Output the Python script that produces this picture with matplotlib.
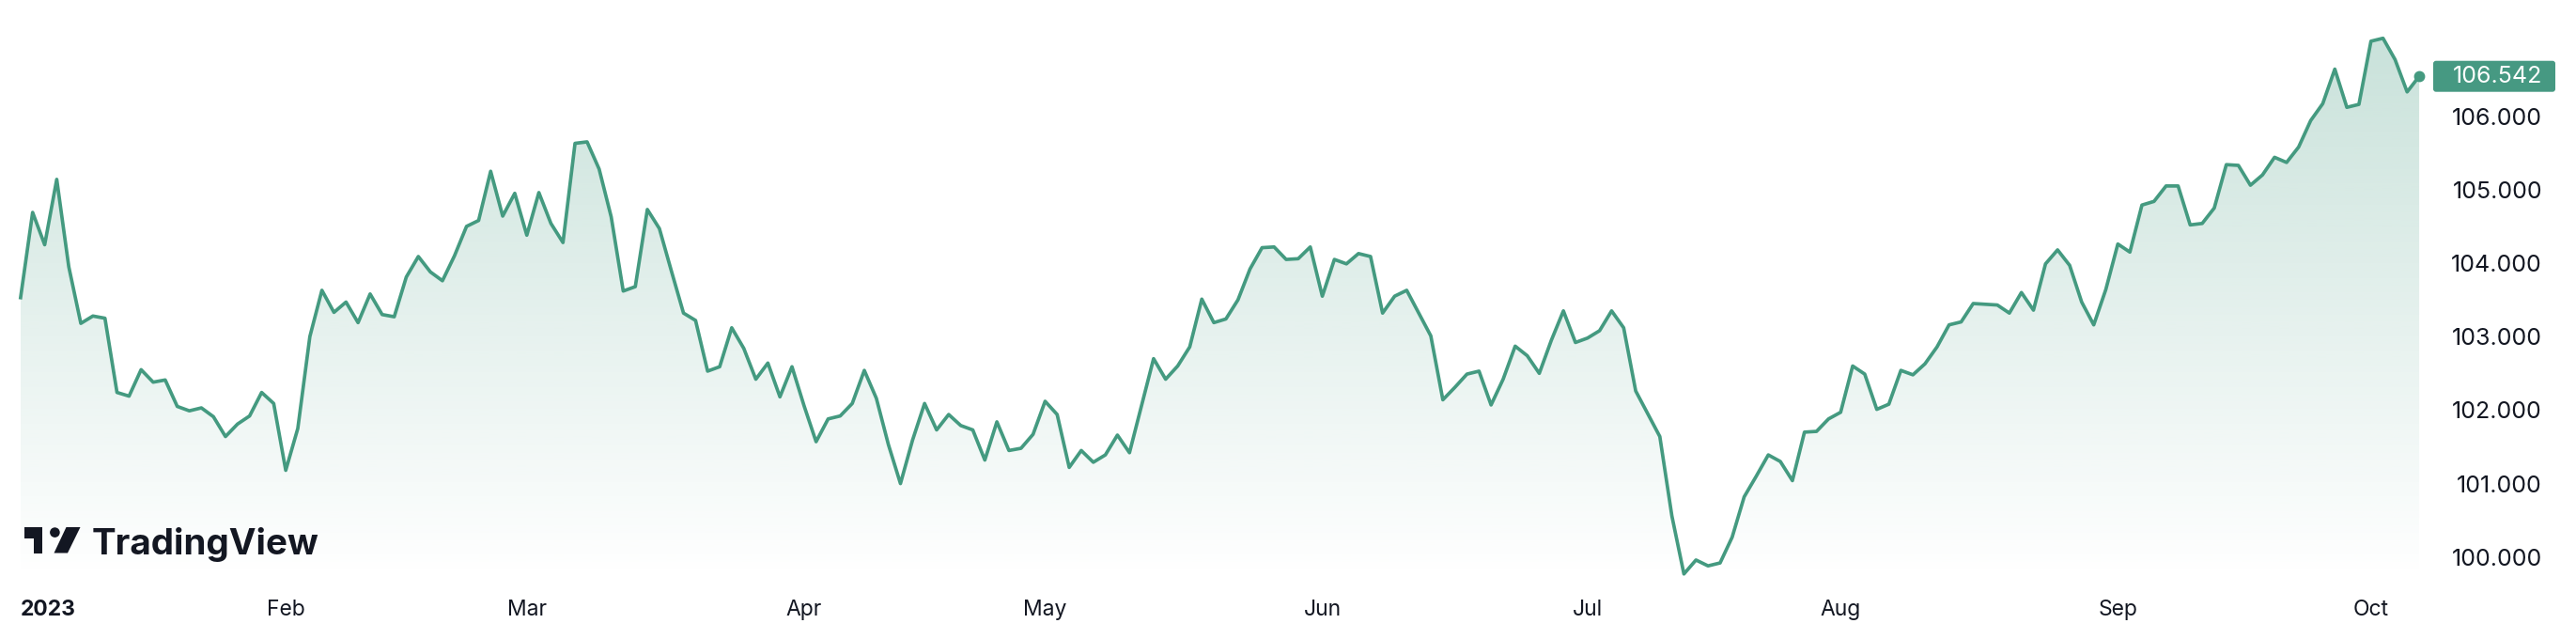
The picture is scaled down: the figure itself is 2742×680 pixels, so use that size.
import numpy as np
import pandas as pd
import matplotlib
matplotlib.use("Agg")
import matplotlib.pyplot as plt
from matplotlib.patches import Polygon, Rectangle, Circle, FancyBboxPatch
from matplotlib.colors import to_rgb

plt.rcParams['font.family'] = ['Inter', 'DejaVu Sans']

# ---------------- data (daily closes, business days) ----------------
jan = [103.53, 104.69, 104.25, 105.14, 103.95, 103.18, 103.28, 103.25, 102.24, 102.19,
       102.55, 102.38, 102.41, 102.05, 101.99, 102.03, 101.91, 101.64, 101.81, 101.92,
       102.24, 102.09]
feb = [101.18, 101.75, 103.00, 103.63, 103.33, 103.47, 103.19, 103.58, 103.30, 103.27,
       103.81, 104.09, 103.88, 103.76, 104.10, 104.50, 104.58, 105.25, 104.64, 104.95]
mar = [104.38, 104.96, 104.54, 104.28, 105.63, 105.65, 105.28, 104.63, 103.62, 103.68,
       104.73, 104.47, 103.89, 103.32, 103.22, 102.53, 102.59, 103.12, 102.84, 102.42,
       102.64, 102.18, 102.59]
apr = [102.06, 101.57, 101.88, 101.92, 102.09, 102.54, 102.16, 101.53, 101.00, 101.59,
       102.09, 101.73, 101.94, 101.79, 101.73, 101.32, 101.84, 101.45, 101.48, 101.67]
may = [102.12, 101.94, 101.22, 101.45, 101.29, 101.39, 101.66, 101.42, 102.06, 102.70,
       102.42, 102.60, 102.86, 103.51, 103.19, 103.24, 103.50, 103.92, 104.21, 104.22,
       104.05, 104.06, 104.22]
jun = [103.55, 104.05, 103.99, 104.13, 104.09, 103.32, 103.55, 103.63, 103.32, 103.01,
       102.14, 102.31, 102.49, 102.53, 102.07, 102.42, 102.87, 102.74, 102.50, 102.95,
       103.35, 102.92]
jul = [102.98, 103.08, 103.35, 103.12, 102.26, 101.95, 101.64, 100.56, 99.77, 99.96,
       99.88, 99.92, 100.27, 100.82, 101.10, 101.39, 101.30, 101.04, 101.70, 101.71,
       101.88]
aug = [101.97, 102.60, 102.49, 102.01, 102.08, 102.54, 102.48, 102.63, 102.86, 103.16,
       103.20, 103.45, 103.44, 103.43, 103.32, 103.60, 103.36, 103.99, 104.18, 103.97,
       103.47, 103.16, 103.64]
sep = [104.26, 104.15, 104.79, 104.84, 105.05, 105.05, 104.52, 104.54, 104.75, 105.34,
       105.33, 105.06, 105.20, 105.44, 105.37, 105.58, 105.94, 106.17, 106.64, 106.12,
       106.16]
octo = [107.02, 107.06, 106.77, 106.33, 106.542]

values = np.array(jan + feb + mar + apr + may + jun + jul + aug + sep + octo)
dates = pd.bdate_range("2023-01-02", periods=len(values))

month_labels = ["2023", "Feb", "Mar", "Apr", "May", "Jun", "Jul", "Aug", "Sep", "Oct"]
month_nums = list(range(1, 11))
y_ticks = [100, 101, 102, 103, 104, 105, 106]
y_labels = [f"{v:.3f}" for v in y_ticks]

# ---------------- style ----------------
LINE = "#449a80"
BOX = "#469982"
TXT = "#131722"
W, H = 2742, 680
DPI = 100

fig = plt.figure(figsize=(W / DPI, H / DPI), dpi=DPI)
fig.patch.set_facecolor("white")

pane_bottom = 614      # px from top
pane_right = 2585      # px
ax = fig.add_axes([0, 1 - pane_bottom / H, pane_right / W, pane_bottom / H])
ax.set_facecolor("white")

x = np.arange(len(values))
step = 12.83           # px per bar
x0px = 21.9
px_per_unit = 78.2
y100 = 592.8

xlim = (-x0px / step, (pane_right - x0px) / step)
ylim = (100 - (pane_bottom - y100) / px_per_unit, 100 + y100 / px_per_unit)

# gradient fill under the line
ybot = ylim[0]
verts = [(x[0], ybot)] + list(zip(x, values)) + [(x[-1], ybot)]
poly = Polygon(verts, closed=True, facecolor="none", edgecolor="none")
ax.add_patch(poly)
n = 400
grad = np.zeros((n, 1, 4))
grad[:, 0, :3] = to_rgb(LINE)
grad[:, 0, 3] = np.linspace(0.29, 0.0, n)
im = ax.imshow(grad, extent=[x[0], x[-1], ybot, values.max()], aspect="auto",
               origin="upper", zorder=1, interpolation="bilinear")
im.set_clip_path(poly)

ax.plot(x, values, color=LINE, lw=2.65, solid_joinstyle="round", zorder=3)
ax.plot([x[-1]], [values[-1]], "o", ms=7.5, color=LINE, zorder=4, clip_on=False)

ax.set_xlim(*xlim)
ax.set_ylim(*ylim)
for s in ax.spines.values():
    s.set_visible(False)

# x ticks at first trading day of each month
tick_idx = [int(np.where(dates.month == m)[0][0]) for m in month_nums]
ax.set_xticks(tick_idx, month_labels)
ax.tick_params(axis="x", length=0, pad=(649 - pane_bottom) * 72 / DPI,
               labelsize=16.5, labelcolor=TXT)
for i, lab in enumerate(ax.get_xticklabels()):
    lab.set_verticalalignment("center")
    if i == 0:
        lab.set_fontweight("bold")
        lab.set_horizontalalignment("left")

# y ticks on right
ax.yaxis.tick_right()
ax.set_yticks(y_ticks, y_labels)
ax.tick_params(axis="y", length=0, pad=(2706 - pane_right) * 72 / DPI,
               labelsize=18, labelcolor=TXT)
for lab in ax.get_yticklabels():
    lab.set_horizontalalignment("right")

# overlay in pixel coords for logo and price label
ov = fig.add_axes([0, 0, 1, 1], zorder=5)
ov.set_xlim(0, W)
ov.set_ylim(H, 0)
ov.axis("off")
ov.patch.set_alpha(0)

# last-price label
fig.canvas.draw()
yc = H - ax.transData.transform((x[-1], values[-1]))[1]
ov.add_patch(FancyBboxPatch((2590, yc - 16.5), 130, 33,
                            boxstyle="round,pad=0,rounding_size=3",
                            facecolor=BOX, edgecolor="none"))
ov.text(2706, yc, f"{values[-1]:.3f}", color="white", fontsize=18,
        ha="right", va="center")

# TradingView logo
ov.add_patch(Rectangle((26, 561), 19, 11.5, facecolor=TXT, edgecolor="none"))
ov.add_patch(Rectangle((35.5, 561), 9.5, 27.5, facecolor=TXT, edgecolor="none"))
ov.add_patch(Circle((58.4, 566.6), 5.3, facecolor=TXT, edgecolor="none"))
ov.add_patch(Polygon([(70.5, 561), (85.5, 561), (72, 588.5), (57.5, 588.5)],
                     closed=True, facecolor=TXT, edgecolor="none"))
t = ov.text(98, 590, "TradingView", fontsize=30, fontweight="bold",
            color=TXT, ha="left", va="baseline")
fig.canvas.draw()
bb = t.get_window_extent()
t.set_fontsize(30 * 242 / bb.width)

fig.savefig("out.png", dpi=DPI, facecolor="white")
